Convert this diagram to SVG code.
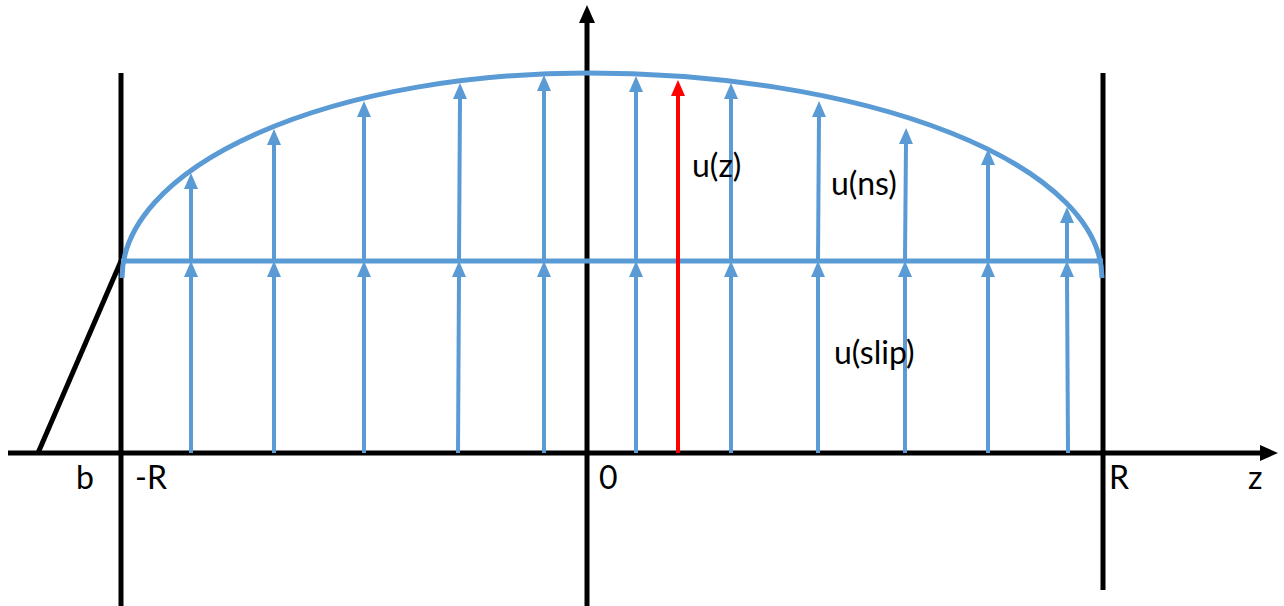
<svg xmlns="http://www.w3.org/2000/svg" width="1284" height="606" viewBox="0 0 1284 606">
  <style>
    .blk { stroke: #000000; stroke-width: 5; fill: none; }
    .blu { stroke: #5B9BD5; stroke-width: 5; fill: none; }
    .arr { stroke: #5B9BD5; stroke-width: 4; fill: none; marker-end: url(#bh); }
    .red { stroke: #FF0000; stroke-width: 4; fill: none; marker-end: url(#rh); }
    .lbl { font-family: Lato, "Open Sans", "Liberation Sans", sans-serif; font-size: 32px; fill: #000000; }
  </style>
  <defs>
    <marker id="bh" markerUnits="userSpaceOnUse" markerWidth="16" markerHeight="14" viewBox="0 0 16 14" refX="2" refY="7" orient="auto">
      <path d="M0,0 L16,7 L0,14 z" fill="#5B9BD5"/>
    </marker>
    <marker id="rh" markerUnits="userSpaceOnUse" markerWidth="16" markerHeight="14" viewBox="0 0 16 14" refX="2" refY="7" orient="auto">
      <path d="M0,0 L16,7 L0,14 z" fill="#FF0000"/>
    </marker>
    <marker id="kh" markerUnits="userSpaceOnUse" markerWidth="18" markerHeight="16" viewBox="0 0 18 16" refX="2" refY="8" orient="auto">
      <path d="M0,0 L18,8 L0,16 z" fill="#000000"/>
    </marker>
  </defs>

  <g id="axes">
    <line class="blk" x1="8" y1="453" x2="1262" y2="453" marker-end="url(#kh)"/>
    <line class="blk" x1="587" y1="606" x2="587" y2="21" marker-end="url(#kh)"/>
  </g>

  <g id="walls">
    <line class="blk" x1="121" y1="73" x2="121" y2="606"/>
    <line class="blk" x1="1103" y1="73" x2="1103" y2="590"/>
    <line class="blk" x1="38" y1="453" x2="121" y2="261" stroke-width="4"/>
  </g>

  <g id="profile">
    <line class="blu" x1="121" y1="261" x2="1103" y2="261"/>
    <path class="blu" d="M122,278 A465,205 0 0 1 587,73 A515,205 0 0 1 1102,278"/>
  </g>

  <g id="connectors">
    <line class="arr" x1="191" y1="453" x2="191" y2="275"/>
    <line class="arr" x1="274" y1="453" x2="274" y2="275"/>
    <line class="arr" x1="364" y1="453" x2="364" y2="275"/>
    <line class="arr" x1="458" y1="453" x2="459" y2="275"/>
    <line class="arr" x1="544" y1="453" x2="544" y2="275"/>
    <line class="arr" x1="636" y1="453" x2="636" y2="275"/>
    <line class="arr" x1="731" y1="453" x2="731" y2="275"/>
    <line class="arr" x1="818" y1="453" x2="818" y2="275"/>
    <line class="arr" x1="905" y1="453" x2="905" y2="275"/>
    <line class="arr" x1="988" y1="453" x2="988" y2="275"/>
    <line class="arr" x1="1068" y1="453" x2="1067" y2="275"/>

    <line class="arr" x1="191" y1="261" x2="191" y2="187"/>
    <line class="arr" x1="274" y1="261" x2="274" y2="143"/>
    <line class="arr" x1="364" y1="261" x2="364" y2="115"/>
    <line class="arr" x1="459" y1="261" x2="460" y2="97"/>
    <line class="arr" x1="544" y1="261" x2="544" y2="89"/>
    <line class="arr" x1="636" y1="261" x2="636" y2="90"/>
    <line class="arr" x1="731" y1="261" x2="731" y2="97"/>
    <line class="arr" x1="818" y1="261" x2="819" y2="115"/>
    <line class="arr" x1="905" y1="261" x2="906" y2="142"/>
    <line class="arr" x1="988" y1="261" x2="988" y2="163"/>
    <line class="arr" x1="1067" y1="261" x2="1067" y2="221"/>

    <line class="red" x1="678" y1="453" x2="678" y2="94"/>
  </g>

  <g id="labels">
    <text class="lbl" x="692" y="177">u(z)</text>
    <text class="lbl" x="831" y="195">u(ns)</text>
    <text class="lbl" x="834" y="364">u(slip)</text>
    <text class="lbl" x="76" y="489">b</text>
    <text class="lbl" x="135" y="489">-R</text>
    <text class="lbl" x="599" y="489">0</text>
    <text class="lbl" x="1109" y="489">R</text>
    <text class="lbl" x="1248" y="489">z</text>
  </g>
</svg>
